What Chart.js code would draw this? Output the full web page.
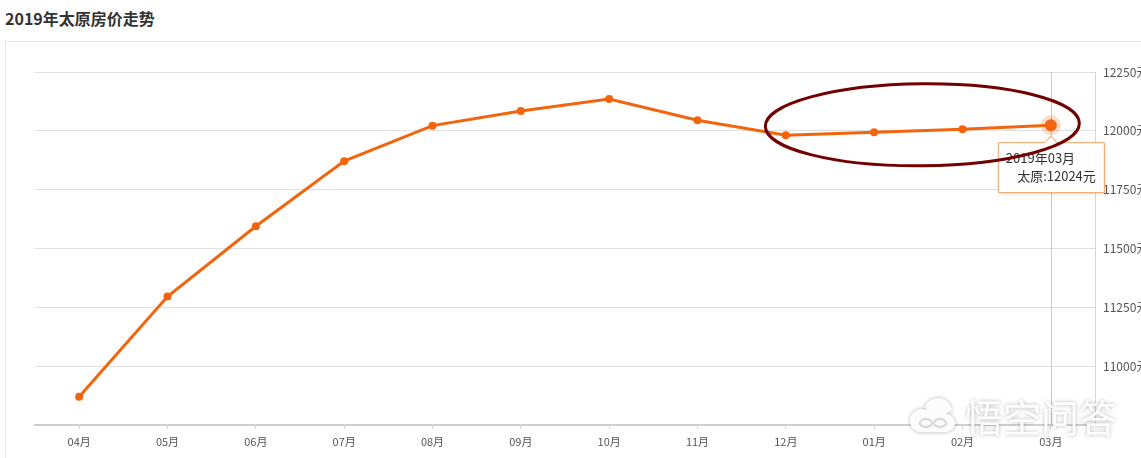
<!DOCTYPE html>
<html>
<head>
<meta charset="utf-8">
<script src="https://cdn.jsdelivr.net/npm/chart.js@4"></script>
<style>
  body { margin: 0; background: #fff; overflow: hidden; }
  #title { position: absolute; left: 5px; top: 6px; font: bold 16px "Noto Sans CJK SC", sans-serif; color: #333; }
  #box { position: absolute; left: 5px; top: 41px; width: 1200px; height: 500px; border: 1px solid #e6e6e6; }
  #wrap { position: absolute; left: 0; top: 0; width: 1141px; height: 458px; }
</style>
</head>
<body>
<div id="title">2019年太原房价走势</div>
<div id="box"></div>
<div id="wrap"><canvas id="chart"></canvas></div>
<script>
// month labels and prices (元/平米)
var months = ['04月', '05月', '06月', '07月', '08月', '09月', '10月', '11月', '12月', '01月', '02月', '03月'];
var prices = [10869, 11295, 11594, 11871, 12022, 12084, 12135, 12045, 11981, 11994, 12007, 12024];
var yTicks = [10750, 11000, 11250, 11500, 11750, 12000, 12250];
var tipTitle = '2019年03月';
var tipLabel = '太原:12024元';

var orange = '#f2650c';
var font = '"Noto Sans CJK SC", sans-serif';

// halo, crosshair, tooltip, circled note and watermark
var extras = {
    id: 'extras',
    beforeDatasetsDraw: function(chart) {
        var ctx = chart.ctx;
        var x = chart.scales.x, y = chart.scales.y;
        var last = prices.length - 1;
        var px = x.getPixelForValue(last), py = y.getPixelForValue(prices[last]);
        ctx.save();
        // crosshair
        ctx.strokeStyle = '#c8c8c8';
        ctx.lineWidth = 1;
        ctx.beginPath();
        ctx.moveTo(Math.round(px) + 0.5, chart.chartArea.top);
        ctx.lineTo(Math.round(px) + 0.5, chart.chartArea.bottom);
        ctx.stroke();
        // halo round the active point
        ctx.fillStyle = 'rgba(242,101,12,0.22)';
        ctx.beginPath();
        ctx.arc(px, py, 10, 0, Math.PI * 2);
        ctx.fill();
        ctx.restore();
    },
    afterDraw: function(chart) {
        var ctx = chart.ctx;
        var x = chart.scales.x, y = chart.scales.y;
        var last = prices.length - 1;
        var px = x.getPixelForValue(last), py = y.getPixelForValue(prices[last]);
        ctx.save();

        // watermark (under the tooltip)
        ctx.font = '38px ' + font;
        ctx.textAlign = 'left';
        ctx.textBaseline = 'alphabetic';
        ctx.shadowColor = 'rgba(0,0,0,0.3)';
        ctx.shadowBlur = 4;
        ctx.fillStyle = 'rgba(255,255,255,0.95)';
        ctx.fillText('悟空问答', 965, 432);
        ctx.beginPath();
        ctx.arc(922, 421, 12, Math.PI * 0.8, Math.PI * 1.9);
        ctx.arc(938, 412, 14, Math.PI * 1.1, Math.PI * 1.95);
        ctx.arc(946, 423, 9, Math.PI * 1.5, Math.PI * 0.5);
        ctx.lineTo(918, 432);
        ctx.closePath();
        ctx.fill();
        ctx.shadowColor = 'transparent';
        ctx.strokeStyle = 'rgba(210,210,210,0.8)';
        ctx.lineWidth = 2.5;
        ctx.beginPath();
        ctx.ellipse(926, 423, 6, 4, 0, 0, Math.PI * 2);
        ctx.stroke();
        ctx.beginPath();
        ctx.ellipse(940, 423, 6, 4, 0, 0, Math.PI * 2);
        ctx.stroke();

        // tooltip box
        var bx = px - 53, by = py + 17, bw = 106, bh = 50;
        ctx.fillStyle = 'rgba(255,255,255,0.96)';
        ctx.strokeStyle = '#f0a36a';
        ctx.lineWidth = 1;
        ctx.beginPath();
        ctx.moveTo(bx + 0.5, by + 0.5);
        ctx.lineTo(px - 6, by + 0.5);
        ctx.lineTo(px, by - 6);
        ctx.lineTo(px + 6, by + 0.5);
        ctx.lineTo(bx + bw + 0.5, by + 0.5);
        ctx.lineTo(bx + bw + 0.5, by + bh + 0.5);
        ctx.lineTo(bx + 0.5, by + bh + 0.5);
        ctx.closePath();
        ctx.shadowColor = 'rgba(0,0,0,0.15)';
        ctx.shadowBlur = 3;
        ctx.shadowOffsetX = 1;
        ctx.shadowOffsetY = 1;
        ctx.fill();
        ctx.shadowColor = 'transparent';
        ctx.stroke();
        ctx.fillStyle = '#333';
        ctx.font = '13px ' + font;
        ctx.textAlign = 'left';
        ctx.textBaseline = 'middle';
        ctx.fillText(tipTitle, bx + 8, by + 16);
        ctx.textAlign = 'right';
        ctx.fillText(tipLabel, bx + bw - 8, by + 34);

        // hand-drawn ellipse round the last four months
        var cx = (x.getPixelForValue(8) + x.getPixelForValue(11)) / 2 + 4;
        var cy = y.getPixelForValue(12000) - 6;
        ctx.strokeStyle = '#730000';
        ctx.lineWidth = 3;
        ctx.beginPath();
        ctx.ellipse(cx, cy, 157, 41, -0.01, 0, Math.PI * 2);
        ctx.stroke();
        ctx.restore();
    }
};

var ctx = document.getElementById('chart').getContext('2d');
var chart = new Chart(ctx, {
    type: 'line',
    data: {
        labels: months,
        datasets: [{
            data: prices,
            borderColor: orange,
            backgroundColor: orange,
            borderWidth: 3,
            pointRadius: prices.map(function(v, i) { return i === prices.length - 1 ? 6 : 4; }),
            pointBorderWidth: 0,
            pointBackgroundColor: orange,
            tension: 0
        }]
    },
    options: {
        responsive: true,
        maintainAspectRatio: false,
        animation: false,
        layout: { padding: { left: 35, top: 72, bottom: 4, right: 0 } },
        plugins: {
            legend: { display: false },
            tooltip: { enabled: false }
        },
        scales: {
            x: {
                offset: true,
                grid: {
                    display: true,
                    drawOnChartArea: false,
                    drawTicks: true,
                    tickLength: 4,
                    color: '#d0d0d0'
                },
                border: { color: '#cfcfcf', width: 2 },
                ticks: {
                    color: '#555',
                    font: { family: font, size: 11 },
                    padding: 6,
                    maxRotation: 0
                }
            },
            y: {
                position: 'right',
                min: yTicks[0],
                max: yTicks[yTicks.length - 1],
                afterBuildTicks: function(axis) {
                    axis.ticks = yTicks.map(function(v) { return { value: v }; });
                },
                afterFit: function(axis) { axis.width = 46; },
                grid: { color: '#e0e0e0', drawTicks: false },
                border: { display: true, color: '#d6d6d6' },
                ticks: {
                    color: '#555',
                    font: { family: font, size: 12 },
                    padding: 8,
                    // the bottom value sits on the axis and is not labelled
                    callback: function(v) { return v === yTicks[0] ? '' : v + '元'; }
                }
            }
        }
    },
    plugins: [extras]
});
</script>
</body>
</html>
